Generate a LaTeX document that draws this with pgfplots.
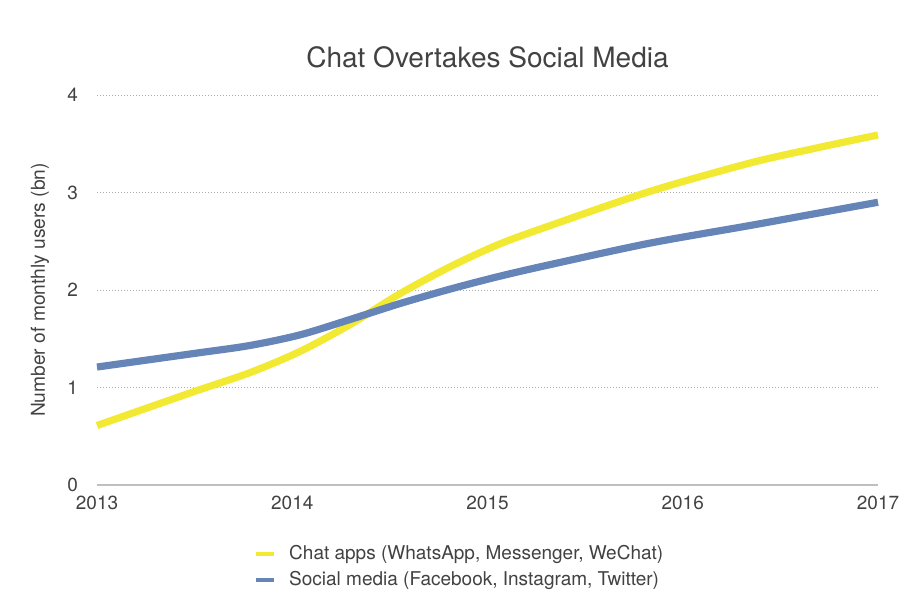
\documentclass[border=0pt]{standalone}
\usepackage{fontspec}
\setmainfont{TeX Gyre Heros}
\usepackage{pgfplots}
\pgfplotsset{compat=1.18}
\definecolor{chatyellow}{RGB}{242,234,50}
\definecolor{socialblue}{RGB}{101,132,184}
\definecolor{txtgray}{RGB}{66,66,66}
\definecolor{gridgray}{RGB}{175,175,175}

\begin{document}
\begin{tikzpicture}
\begin{axis}[
    scale only axis,
    width=390.5bp, height=195bp,
    xmin=2013, xmax=2017,
    ymin=0, ymax=4,
    xtick={2013,2014,2015,2016,2017},
    ytick={0,1,2,3,4},
    xticklabel={\pgfmathprintnumber[1000 sep={}]{\tick}},
    /pgf/number format/assume math mode=true,
    major tick length=0pt,
    tick style={draw=none},
    axis x line*=bottom,
    axis y line*=left,
    y axis line style={draw=none},
    x axis line style={draw=gridgray!80, line width=0.6bp, -},
    ymajorgrids,
    grid style={gridgray, line width=0.5bp, dash pattern=on 0.6bp off 0.9bp},
    ticklabel style={font=\fontsize{9.5bp}{11bp}\selectfont, text=txtgray},
    yticklabel style={anchor=east, xshift=-6bp},
    xticklabel style={yshift=-2bp},
    ylabel={Number of monthly users (bn)},
    ylabel style={at={(axis description cs:-0.073,0.5)}, anchor=center, rotate=0,
        font=\fontsize{9.6bp}{11bp}\selectfont, text=txtgray},
    legend style={at={(rel axis cs:0.198,-0.143)}, anchor=north west, draw=none,
        inner sep=0pt, font=\fontsize{9.5bp}{12.5bp}\selectfont, text=txtgray,
        row sep=0.5bp},
    legend cell align=left,
    legend image code/.code={\draw[#1, line width=2bp] (0bp,0bp) -- (9bp,0bp);
        \path (0bp,0bp) (13bp,0bp);},
    clip=false,
]
\addplot[chatyellow, line width=3.6bp, smooth] coordinates {
    (2013,0.61) (2013.5,0.96) (2013.78,1.15) (2014.04,1.37) (2014.3,1.65)
    (2014.55,1.96) (2014.81,2.24) (2015.06,2.47) (2015.32,2.66) (2015.83,3.01)
    (2016.34,3.30) (2016.67,3.45) (2017,3.59)};
\addlegendentry{Chat apps (WhatsApp, Messenger, WeChat)}
\addplot[socialblue, line width=3.6bp, smooth] coordinates {
    (2013,1.21) (2013.5,1.35) (2013.78,1.43) (2014.04,1.54) (2014.3,1.70)
    (2014.55,1.86) (2014.81,2.01) (2015.06,2.14) (2015.32,2.26) (2015.83,2.48)
    (2016.34,2.66) (2016.67,2.78) (2017,2.90)};
\addlegendentry{Social media (Facebook, Instagram, Twitter)}
\node[font=\fontsize{14bp}{16bp}\selectfont, text=txtgray] at (axis description cs:0.5,1.097) {Chat Overtakes Social Media};
\end{axis}
\pgfresetboundingbox
\path ([shift={(-48.5bp,-60.5bp)}]current axis.south west) rectangle ([shift={(21bp,47.5bp)}]current axis.north east);
\end{tikzpicture}
\end{document}
